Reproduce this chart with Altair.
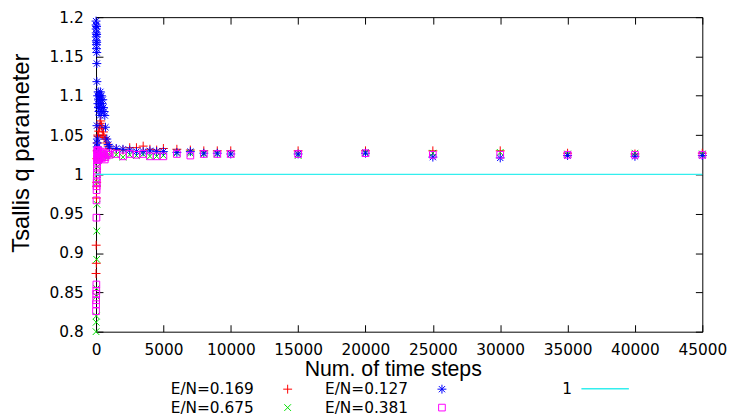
import altair as alt
import pandas as pd

# ---------------- data ----------------
x_ticks = [0, 5000, 10000, 15000, 20000, 25000, 30000, 35000, 40000, 45000]
y_ticks = [0.8, 0.85, 0.9, 0.95, 1.0, 1.05, 1.1, 1.15, 1.2]

# E/N=0.169 (red, +)
red_t = [0, 10, 20, 30, 40, 50, 60, 80, 100, 120, 150, 200, 250, 300, 350, 400, 450, 500, 550, 600,
         700, 800, 900, 1000, 1500, 2000, 2500, 3000, 3500, 4000, 4500, 5000,
         6000, 7000, 8000, 9000, 10000, 15000, 20000, 25000, 30000, 35000, 40000, 45000]
red_q = [0.874, 0.91, 0.887, 0.97, 0.985, 0.99, 1.02, 1.03, 1.04, 1.05, 1.048, 1.055, 1.06, 1.065, 1.068, 1.062, 1.058, 1.05, 1.054, 1.047,
         1.045, 1.04, 1.036, 1.033, 1.032, 1.031, 1.034, 1.034, 1.036, 1.032, 1.031, 1.033,
         1.032, 1.031, 1.03, 1.03, 1.03, 1.03, 1.03, 1.03, 1.03, 1.027, 1.026, 1.027]

# E/N=0.675 (green, x)
green_t = [0, 10, 20, 30, 40, 50, 60, 70, 80, 90, 100, 150, 200, 250, 300, 400, 500, 600, 700, 800,
           1000, 1500, 2000, 2500, 3000, 3500, 4000, 4500, 5000,
           6000, 7000, 8000, 9000, 10000, 15000, 20000, 25000, 30000, 35000, 40000, 45000]
green_q = [0.80, 0.812, 0.82, 0.845, 0.855, 0.892, 0.928, 0.962, 0.99, 1.0, 1.01, 1.018, 1.022, 1.02, 1.025, 1.022, 1.024, 1.023, 1.026, 1.024,
           1.025, 1.025, 1.022, 1.025, 1.024, 1.026, 1.023, 1.023, 1.024,
           1.027, 1.027, 1.026, 1.026, 1.026, 1.024, 1.028, 1.027, 1.028, 1.026, 1.027, 1.026]

# E/N=0.127 (blue, *)
blue_t = [0, 5, 10, 15, 20, 25, 30, 35, 40, 45, 50, 55, 60, 65,
          70, 80, 90, 100, 110, 120, 140, 160, 180, 200, 220, 250, 280, 300, 320, 350, 380, 400, 420, 450,
          500, 550, 600, 650, 700, 800, 900,
          1000, 1500, 2000, 2500, 3000, 3500, 4000, 4500, 5000,
          6000, 7000, 8000, 9000, 10000, 15000, 20000, 25000, 30000, 35000, 40000, 45000]
blue_q = [1.195, 1.19, 1.185, 1.18, 1.175, 1.17, 1.165, 1.16, 1.188, 1.178, 1.168, 1.155, 1.141, 1.118,
          1.062, 1.04, 1.035, 1.045, 1.03, 1.1, 1.09, 1.105, 1.085, 1.095, 1.08, 1.1, 1.09, 1.075, 1.105, 1.095, 1.085, 1.1, 1.08, 1.09,
          1.095, 1.085, 1.08, 1.075, 1.06, 1.045, 1.038,
          1.035, 1.033, 1.032, 1.031, 1.029, 1.029, 1.03, 1.029, 1.029,
          1.028, 1.029, 1.027, 1.027, 1.026, 1.026, 1.027, 1.022, 1.021, 1.024, 1.023, 1.024]

# E/N=0.381 (magenta, square)
mag_t = [0, 5, 10, 15, 20, 25, 30, 35, 40, 45, 50, 55, 60,
         65, 70, 75, 80, 85, 90, 100, 110, 120, 130, 140, 160, 180, 200, 220, 250, 300, 350, 400, 450, 500, 550, 600, 650, 700, 800, 900,
         1000, 1500, 2000, 2500, 3000, 3500, 4000, 4500, 5000,
         6000, 7000, 8000, 9000, 10000, 15000, 20000, 25000, 30000, 35000, 40000, 45000]
mag_q = [0.826, 0.835, 0.84, 0.848, 0.852, 0.86, 0.945, 0.967, 0.98, 0.985, 0.99, 0.995, 1.0,
         1.005, 1.01, 1.015, 1.02, 1.025, 1.03, 1.028, 1.019, 1.022, 1.031, 1.018, 1.026, 1.03, 1.024, 1.02, 1.02, 1.027, 1.029, 1.023, 1.021, 1.026, 1.028, 1.024, 1.019, 1.022, 1.025, 1.027,
         1.025, 1.026, 1.023, 1.026, 1.025, 1.026, 1.023, 1.023, 1.023,
         1.026, 1.024, 1.026, 1.026, 1.026, 1.026, 1.027, 1.025, 1.025, 1.025, 1.025, 1.025]

ref_t = [0, 45000]
ref_q = [1.0, 1.0]

# legend (column-major): col 1 = 0.169, 0.675 ; col 2 = 0.127, 0.381
series_names = ["E/N=0.169", "E/N=0.675", "E/N=0.127", "E/N=0.381"]
series_colors = ["#ff0000", "#00e000", "#0000ff", "#ff00ff"]

# ---------------- marker styles ----------------
# legend symbols are drawn to the right of their label (gnuplot key style):
# the glyph path is shifted right, and the plotted points are shifted back.
PT_SIZE = 81
UNIT = (PT_SIZE ** 0.5) / 2          # px per path unit
SHIFT_PX = 126
s = SHIFT_PX / UNIT


def f(v):
    return f"{v:.3f}"


plus_path = f"M{f(s-1)},0L{f(s+1)},0M{f(s)},-1L{f(s)},1"
star_path = plus_path + f"M{f(s-0.7)},-0.7L{f(s+0.7)},0.7M{f(s-0.7)},0.7L{f(s+0.7)},-0.7"
x_path = f"M{f(s-0.75)},-0.75L{f(s+0.75)},0.75M{f(s-0.75)},0.75L{f(s+0.75)},-0.75"
sq_path = f"M{f(s-0.75)},-0.75L{f(s+0.75)},-0.75L{f(s+0.75)},0.75L{f(s-0.75)},0.75Z"
series_shapes = [plus_path, x_path, star_path, sq_path]

LINE_SIZE = 100
LU = (LINE_SIZE ** 0.5) / 2
line_symbol = f"M{f(27 / LU)},0L{f(75 / LU)},0"

# ---------------- tables ----------------
frames = []
for name, ts, qs in [("E/N=0.169", red_t, red_q), ("E/N=0.675", green_t, green_q),
                     ("E/N=0.127", blue_t, blue_q), ("E/N=0.381", mag_t, mag_q)]:
    frames.append(pd.DataFrame({"t": ts, "q": qs, "series": name}))
pts = pd.concat(frames, ignore_index=True)
ref = pd.DataFrame({"t": ref_t, "q": ref_q, "label": "1"})

FONT = "DejaVu Sans"
TFONT = "Liberation Sans"

xscale = alt.Scale(domain=[0, 45000], nice=False, zero=False)
yscale = alt.Scale(domain=[0.8, 1.2], nice=False, zero=False)

pt_legend = alt.Legend(
    title=None, orient="none", legendX=60, legendY=368, columns=2,
    labelOffset=0, symbolOffset=0,
    labelFont=FONT, labelFontSize=15.5, labelColor="black",
    symbolSize=PT_SIZE, symbolStrokeWidth=1, columnPadding=15, rowPadding=2,
)

points = alt.Chart(pts).mark_point(filled=False, size=PT_SIZE, strokeWidth=1, opacity=1,
                                   xOffset=-SHIFT_PX).encode(
    x=alt.X("t:Q", scale=xscale, axis=alt.Axis(
        values=x_ticks, format="d", orient="bottom", offset=-7, tickSize=7, domain=False, grid=False,
        labelFont=FONT, labelFontSize=15.5, labelColor="black", labelPadding=11,
        labelOverlap=False, labelFlush=False,
        tickColor="black", title="Num. of time steps", titleFont=TFONT, titleFontSize=21.5,
        titleFontWeight="normal", titleColor="black", titlePadding=1, titleX=300)),
    y=alt.Y("q:Q", scale=yscale, axis=alt.Axis(
        values=y_ticks, format="~g", orient="left", offset=-7, tickSize=7, domain=False, grid=False,
        labelFont=FONT, labelFontSize=15.5, labelColor="black", labelPadding=13,
        labelOverlap=False, labelFlush=False,
        tickColor="black", title="Tsallis q parameter", titleFont=TFONT, titleFontSize=24,
        titleFontWeight="normal", titleColor="black", titleX=-70, titleY=137)),
    color=alt.Color("series:N", scale=alt.Scale(domain=series_names, range=series_colors), legend=pt_legend),
    shape=alt.Shape("series:N", scale=alt.Scale(domain=series_names, range=series_shapes), legend=pt_legend),
)

line = alt.Chart(ref).mark_line(strokeWidth=1.2).encode(
    x=alt.X("t:Q", scale=xscale, axis=alt.Axis(
        values=x_ticks, orient="top", offset=-7, tickSize=7, domain=False, grid=False,
        labels=False, tickColor="black", title=None)),
    y=alt.Y("q:Q", scale=yscale, axis=alt.Axis(
        values=y_ticks, orient="right", offset=-7, tickSize=7, domain=False, grid=False,
        labels=False, tickColor="black", title=None)),
    stroke=alt.Stroke("label:N", scale=alt.Scale(domain=["1"], range=["#33eeee"]), legend=alt.Legend(
        title=None, orient="none", legendX=456, legendY=368, symbolType=line_symbol,
        labelOffset=0, symbolOffset=0, symbolSize=LINE_SIZE,
        symbolStrokeWidth=1.5, labelFont=FONT, labelFontSize=15.5, labelColor="black")),
)

chart = alt.layer(points, line).resolve_axis(x="independent", y="independent").properties(
    width=613, height=318,
    autosize=alt.AutoSizeParams(type="none"),
    padding={"left": 89, "top": 7, "right": 29, "bottom": 84},
    background="white",
).configure_view(stroke="black", strokeWidth=1)

chart.save("out.html", embed_options={"renderer": "svg", "actions": False})
